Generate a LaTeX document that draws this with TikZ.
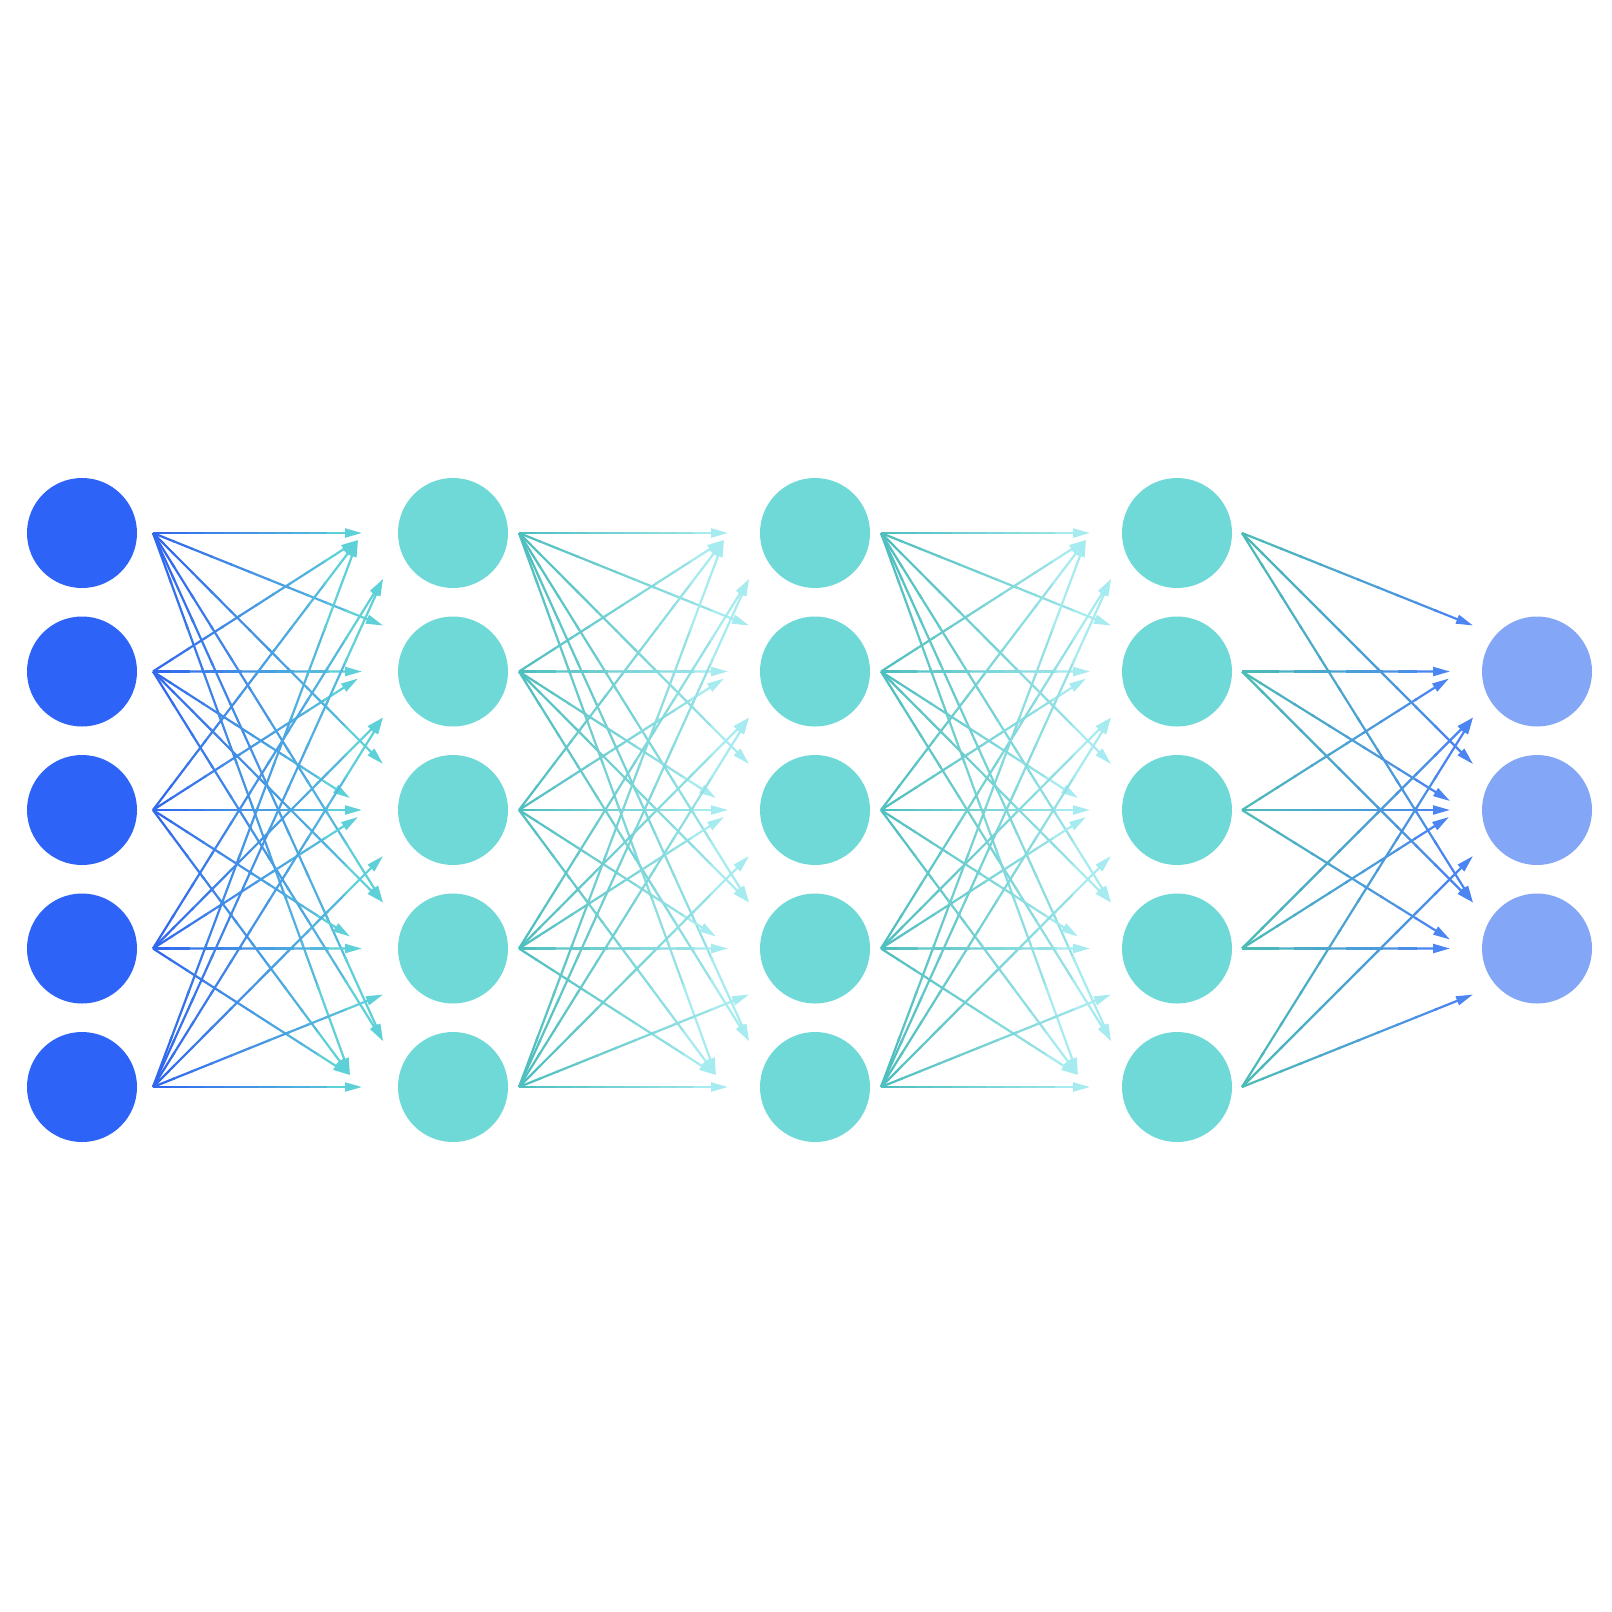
\documentclass[tikz,border=0pt]{standalone}
\usetikzlibrary{calc,arrows.meta}
\definecolor{inblue}{HTML}{2D63F6}
\definecolor{hidteal}{HTML}{6FD9D8}
\definecolor{outblue}{HTML}{83A7F6}
\definecolor{gAs}{HTML}{2F63EF}
\definecolor{gAe}{HTML}{5ED0D8}
\definecolor{gBs}{HTML}{4CBDBE}
\definecolor{gBe}{HTML}{A6EBEF}
\definecolor{gDs}{HTML}{4CBDB6}
\definecolor{gDe}{HTML}{4A85F2}
\tikzset{
  neuron/.style={circle, minimum size=110pt, inner sep=0pt, draw=none},
  wire/.style={line width=2.2pt},
  tipped/.style={-{Triangle[length=17pt,width=9pt]}}
}
\newcommand\gradarrow[4]{%
  \colorlet{gaS}{#3}\colorlet{gaE}{#4}%
  \foreach \k in {0,...,9}{%
    \pgfmathsetmacro\ta{\k/12}%
    \pgfmathsetmacro\tb{(\k+1)/12+0.01}%
    \pgfmathsetmacro\pc{100*(\k+0.5)/12}%
    \draw[wire, color=gaE!\pc!gaS] ($(#1)!\ta!(#2)$) -- ($(#1)!\tb!(#2)$);
  }%
  \draw[wire, tipped, color=gaE] ($(#1)!0.8333!(#2)$) -- (#2);
}
\begin{document}
\begin{tikzpicture}[x=1pt,y=-1pt]
\fill[white] (0,0) rectangle (1612,1612);
\useasboundingbox (0,0) rectangle (1612,1612);
% neurons
\foreach \i in {0,...,4}{
  \node[neuron, fill=inblue]  (L1-\i) at (82, 533+138.5*\i) {};
  \node[neuron, fill=hidteal] (L2-\i) at (453, 533+138.5*\i) {};
  \node[neuron, fill=hidteal] (L3-\i) at (815, 533+138.5*\i) {};
  \node[neuron, fill=hidteal] (L4-\i) at (1177, 533+138.5*\i) {};
}
\foreach \i in {0,1,2}{
  \node[neuron, fill=outblue] (L5-\i) at (1537, 671.5+138.5*\i) {};
}
% ports for the 5->5 gaps
\foreach \g/\xs in {a/153, b/519, c/881}{
  \foreach \i in {0,...,4}{
    \coordinate (\g-s\i) at (\xs, 533+138.5*\i);
    \coordinate (\g-B\i) at (\xs+209, 533+138.5*\i);
    \coordinate (\g-A\i) at (\xs+230, 487+138.5*\i);
    \coordinate (\g-N\i) at (\xs+197, 521+138.5*\i);
    \coordinate (\g-M\i) at (\xs+205, 540+138.5*\i);
    \coordinate (\g-C\i) at (\xs+230, 579+138.5*\i);
  }
}
% ports for the 5->3 gap
\foreach \i in {0,...,4}{
  \coordinate (d-s\i) at (1242, 533+138.5*\i);
}
\foreach \i in {0,1,2}{
  \coordinate (d-B\i) at (1450, 671.5+138.5*\i);
  \coordinate (d-A\i) at (1473, 625.5+138.5*\i);
  \coordinate (d-N\i) at (1450, 662.5+138.5*\i);
  \coordinate (d-M\i) at (1449, 678.5+138.5*\i);
  \coordinate (d-C\i) at (1473, 717.5+138.5*\i);
}
% connectors, 5->5 gaps
\foreach \g/\cs/\ce in {a/gAs/gAe, b/gBs/gBe, c/gBs/gBe}{
  \foreach \s/\t/\p in {0/0/B, 0/1/A, 0/2/A, 0/3/A, 0/4/A, 0/4/N,
                        1/0/M, 1/1/B, 1/2/N, 1/3/A, 1/4/A,
                        2/0/M, 2/1/M, 2/2/B, 2/3/N, 2/4/N,
                        3/0/C, 3/1/C, 3/2/M, 3/3/B, 3/4/N,
                        4/0/C, 4/1/C, 4/2/C, 4/3/C, 4/4/B, 4/0/M}{
    \gradarrow{\g-s\s}{\g-\p\t}{\cs}{\ce}
  }
}
% connectors, 5->3 gap
\foreach \s/\t/\p in {0/0/A, 0/1/A, 0/2/A,
                      1/0/B, 1/1/N, 1/2/A,
                      2/0/M, 2/1/B, 2/2/N,
                      3/0/C, 3/1/M, 3/2/B,
                      4/0/C, 4/1/C, 4/2/C}{
  \gradarrow{d-s\s}{d-\p\t}{gDs}{gDe}
}
\end{tikzpicture}
\end{document}
